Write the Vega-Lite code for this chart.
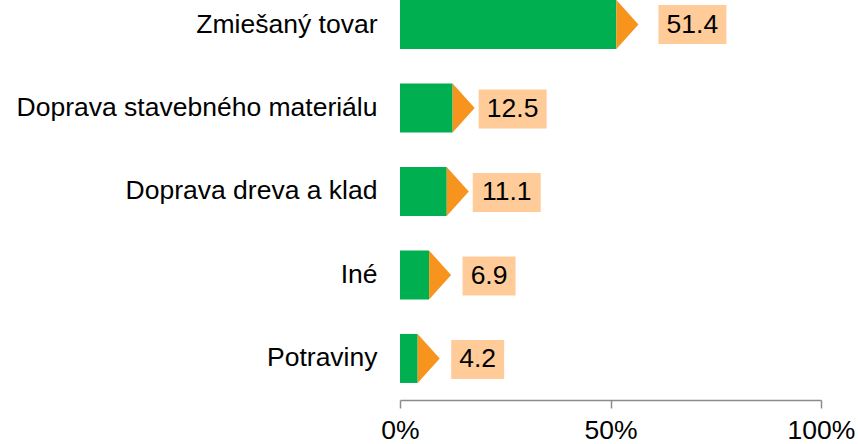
{
  "$schema": "https://vega.github.io/schema/vega-lite/v6.json",
  "autosize": {"type": "none"},
  "padding": {"left": 400, "top": 0, "right": 37, "bottom": 44},
  "width": 421,
  "height": 400,
  "config": {"font": "Liberation Sans", "view": {"stroke": null}},
  "data": {"values": [
    {"kategoria": "Zmiešaný tovar", "podiel": 51.4},
    {"kategoria": "Doprava stavebného materiálu", "podiel": 12.5},
    {"kategoria": "Doprava dreva a klad", "podiel": 11.1},
    {"kategoria": "Iné", "podiel": 6.9},
    {"kategoria": "Potraviny", "podiel": 4.2}
  ]},
  "encoding": {
    "y": {"field": "kategoria", "type": "nominal", "sort": null,
      "scale": {"paddingInner": 0.413, "paddingOuter": 0.102, "align": 0},
      "axis": {"title": null, "ticks": false, "domain": false, "labelPadding": 23, "labelFontSize": 26.5, "labelColor": "#000000", "labelLimit": 0}},
    "x": {"field": "podiel", "type": "quantitative",
      "scale": {"domain": [0, 100], "nice": false},
      "axis": {"title": null, "values": [0, 50, 100], "labelExpr": "datum.value + '%'", "grid": false,
        "domainColor": "#8c8c8c", "tickColor": "#8c8c8c", "domainWidth": 1.5, "tickWidth": 1.5, "tickSize": 8,
        "labelFontSize": 26.5, "labelColor": "#000000", "labelPadding": 9, "labelFlush": false, "labelOverlap": false, "labelBound": false}}
  },
  "layer": [
    {"mark": {"type": "bar", "color": "#00B050"}},
    {"mark": {"type": "point", "shape": "M0,-1 L0.9,0 L0,1 Z", "size": 2401, "filled": true, "color": "#F7941D", "opacity": 1, "strokeWidth": 0}},
    {"transform": [{"filter": "datum.podiel < 10"}],
      "mark": {"type": "point", "shape": "M-1,-0.736 L1,-0.736 L1,0.736 L-1,0.736 Z", "size": 2809, "filled": true, "color": "#FFCC99", "opacity": 1, "strokeWidth": 0, "xOffset": 60, "yOffset": 1}},
    {"transform": [{"filter": "datum.podiel >= 10 && datum.podiel < 50"}],
      "mark": {"type": "point", "shape": "M-1,-0.574 L1,-0.574 L1,0.574 L-1,0.574 Z", "size": 4624, "filled": true, "color": "#FFCC99", "opacity": 1, "strokeWidth": 0, "xOffset": 60, "yOffset": 1}},
    {"transform": [{"filter": "datum.podiel >= 50"}],
      "mark": {"type": "point", "shape": "M-1,-0.574 L1,-0.574 L1,0.574 L-1,0.574 Z", "size": 4624, "filled": true, "color": "#FFCC99", "opacity": 1, "strokeWidth": 0, "xOffset": 76, "yOffset": 0}},
    {"transform": [{"filter": "datum.podiel < 50"}],
      "mark": {"type": "text", "fontSize": 26.5, "color": "#000000", "align": "center", "baseline": "middle", "xOffset": 60, "yOffset": 1},
      "encoding": {"text": {"field": "podiel", "type": "quantitative", "format": ".1f"}}},
    {"transform": [{"filter": "datum.podiel >= 50"}],
      "mark": {"type": "text", "fontSize": 26.5, "color": "#000000", "align": "center", "baseline": "middle", "xOffset": 76, "yOffset": 0},
      "encoding": {"text": {"field": "podiel", "type": "quantitative", "format": ".1f"}}}
  ]
}
